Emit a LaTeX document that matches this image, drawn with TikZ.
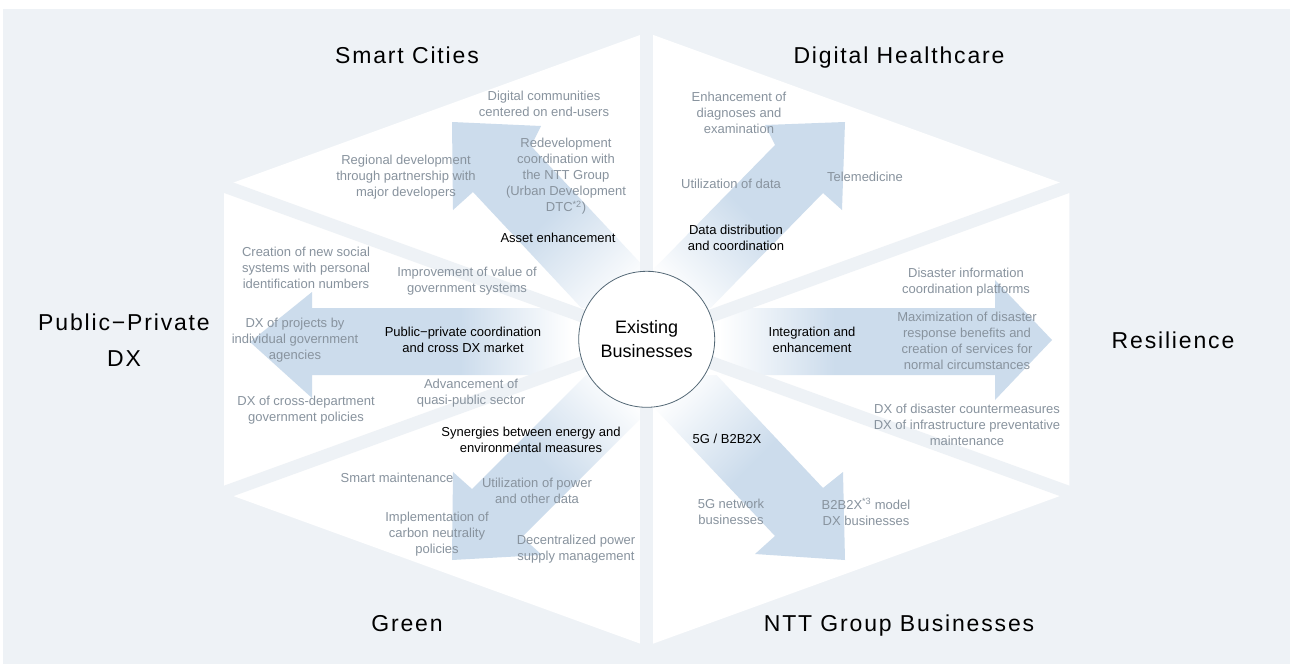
\documentclass[tikz,border=0pt]{standalone}
\usepackage{fontspec}
\setmainfont{Liberation Sans}
\newfontfamily\titlefont[LetterSpace=8]{Liberation Sans}
\usepackage{tikz}
\usetikzlibrary{calc}
\usepackage{xcolor}

\begin{document}
\begin{tikzpicture}[x=1pt, y=-1pt, every node/.style={font=\fontsize{13}{16}\selectfont}]
	% Define colors
	\definecolor{bg_gray}{RGB}{238, 242, 246}
	\definecolor{arrow_blue}{RGB}{204, 220, 236}
	\definecolor{note_gray}{RGB}{136, 147, 158}
	\definecolor{ring_line}{RGB}{84, 104, 118}

	% Fadings of the big arrows (straight and diagonal)
	\pgfdeclarehorizontalshading{arrow_fade_h}{100bp}{color(0bp)=(arrow_blue); color(55bp)=(arrow_blue); color(71bp)=(white); color(100bp)=(white)}
	\pgfdeclarehorizontalshading{arrow_fade_d}{100bp}{color(0bp)=(arrow_blue); color(47bp)=(arrow_blue); color(74bp)=(white); color(100bp)=(white)}

	% Styles
	\tikzstyle{sector_title} = [font=\titlefont\fontsize{23}{36}\selectfont, text=black, align=center]
	\tikzstyle{key_text} = [text=black, align=center]
	\tikzstyle{note_text} = [text=note_gray, align=center]
	\tikzstyle{gap_band} = [draw=bg_gray, line width=13pt]
	\tikzstyle{hub_ring} = [circle, draw=ring_line, fill=white, line width=0.8pt, minimum size=136pt, inner sep=0pt, align=center, font=\fontsize{18}{24}\selectfont]
	\tikzstyle{straight_arrow} = [shading=arrow_fade_h]
	\tikzstyle{corner_arrow} = [shading=arrow_fade_d]

	% Centre of the hexagon
	\def\cx{646.7}
	\def\cy{339.3}

	\useasboundingbox (0,0) rectangle (1290,664);
	\fill[bg_gray] (3,9) rectangle (1290,664);

	% Hexagon corners
	\coordinate (hub) at (\cx,\cy);
	\coordinate (v_top) at (\cx,32.6);
	\coordinate (v_ur) at (1069.4,186);
	\coordinate (v_lr) at (1069.4,492.6);
	\coordinate (v_bot) at (\cx,646);
	\coordinate (v_ll) at (224,492.6);
	\coordinate (v_ul) at (224,186);
	\fill[white] (v_top) -- (v_ur) -- (v_lr) -- (v_bot) -- (v_ll) -- (v_ul) -- cycle;

	% Big arrows
	\shade[corner_arrow, shading angle=-45] (452,122) -- (541,126) -- (531,146) -- (661,285) -- (603,331) -- (473,192) -- (453,210) -- cycle;
	\shade[corner_arrow, shading angle=225] (845,122) -- (765,125) -- (775,145) -- (642,281) -- (690,329) -- (823,193) -- (842,210) -- cycle;
	\shade[corner_arrow, shading angle=45] (452,560) -- (453,472) -- (472,489) -- (607,354) -- (657,402) -- (522,537) -- (542,555) -- cycle;
	\shade[corner_arrow, shading angle=135] (845,560) -- (843,472) -- (823,488) -- (692,349) -- (644,397) -- (775,536) -- (755,554) -- cycle;
	\shade[straight_arrow, shading angle=0] (250,342) -- (312,292) -- (312,308) -- (600,308) -- (600,375) -- (312,375) -- (312,398) -- cycle;
	\shade[straight_arrow, shading angle=180] (1052,340) -- (995,280) -- (995,308) -- (690,308) -- (690,375) -- (995,375) -- (995,400) -- cycle;

	% Gaps between the six sectors
	\foreach \v in {v_top, v_ur, v_lr, v_bot, v_ll, v_ul}
		\draw[gap_band] (hub) -- ($(hub)!1.04!(\v)$);

	% Existing businesses in the middle
	\node[hub_ring] (hub_circle) at (hub) {Existing\\Businesses};

	% Sector titles
	\node[sector_title, anchor=base] (t_sc) at (407,63) {Smart Cities};
	\node[sector_title, anchor=base] (t_dh) at (899,63) {Digital Healthcare};
	\node[sector_title] (t_pp) at (124,340) {Public−Private\\DX};
	\node[sector_title, anchor=base] (t_re) at (1173,348) {Resilience};
	\node[sector_title, anchor=base] (t_gr) at (407,631.5) {Green};
	\node[sector_title, anchor=base] (t_ntt) at (899,631.5) {NTT Group Businesses};

	% Smart Cities
	\node[note_text] (n_sc1) at (544,104) {Digital communities\\centered on end-users};
	\node[note_text] (n_sc2) at (406,177) {Regional development\\through partnership with\\major developers};
	\node[note_text] (n_sc3) at (566,176) {Redevelopment\\coordination with\\the NTT Group\\(Urban Development\\DTC\textsuperscript{*2})};
	\node[key_text] (k_sc) at (558,238) {Asset enhancement};

	% Digital Healthcare
	\node[note_text] (n_dh1) at (739,113) {Enhancement of\\diagnoses and\\examination};
	\node[note_text] (n_dh2) at (731,184) {Utilization of data};
	\node[note_text] (n_dh3) at (865,177) {Telemedicine};
	\node[key_text] (k_dh) at (736,238) {Data distribution\\and coordination};

	% Public-Private DX
	\node[note_text] (n_pp1) at (306,268) {Creation of new social\\systems with personal\\identification numbers};
	\node[note_text] (n_pp2) at (467,281) {Improvement of value of\\government systems};
	\node[note_text] (n_pp3) at (295,340) {DX of projects by\\individual government\\agencies};
	\node[note_text] (n_pp4) at (471,393) {Advancement of\\quasi-public sector};
	\node[note_text] (n_pp5) at (306,410) {DX of cross-department\\government policies};
	\node[key_text] (k_pp) at (463,340) {Public−private coordination\\and cross DX market};

	% Resilience
	\node[note_text] (n_re1) at (966,282) {Disaster information\\coordination platforms};
	\node[note_text] (n_re2) at (967,341) {Maximization of disaster\\response benefits and\\creation of services for\\normal circumstances};
	\node[note_text] (n_re3) at (967,425) {DX of disaster countermeasures\\DX of infrastructure preventative\\maintenance};
	\node[key_text] (k_re) at (812,340) {Integration and\\enhancement};

	% Green
	\node[note_text] (n_gr1) at (397,478) {Smart maintenance};
	\node[note_text] (n_gr2) at (537,491) {Utilization of power\\and other data};
	\node[note_text] (n_gr3) at (437,534) {Implementation of\\carbon neutrality\\policies};
	\node[note_text] (n_gr4) at (576,549) {Decentralized power\\supply management};
	\node[key_text] (k_gr) at (531,440) {Synergies between energy and\\environmental measures};

	% NTT Group Businesses
	\node[note_text] (n_ntt1) at (731,512) {5G network\\businesses};
	\node[note_text] (n_ntt2) at (866,512) {B2B2X\textsuperscript{*3} model\\DX businesses};
	\node[key_text] (k_ntt) at (727,439) {5G / B2B2X};

\end{tikzpicture}
\end{document}
